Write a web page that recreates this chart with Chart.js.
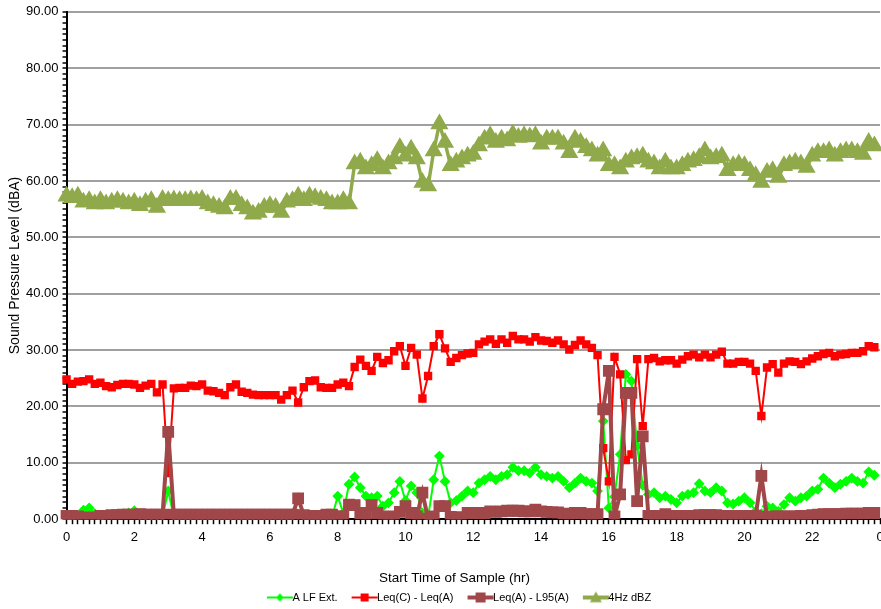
<!DOCTYPE html>
<html>
<head>
<meta charset="utf-8">
<script src="https://cdn.jsdelivr.net/npm/chart.js@4.4.0/dist/chart.umd.min.js"></script>
<style>
  html, body { margin: 0; padding: 0; background: #fff; overflow: hidden; }
  #wrap { width: 881px; height: 609px; overflow: hidden; }
  canvas { display: block; }
</style>
</head>
<body>
<div id="wrap"><canvas id="noiseChart" width="904" height="609"></canvas></div>
<script>
// series values, one sample every 10 minutes (144 samples over the day)
var aLfExt = [
  0.0, 0.3, 0.6, 1.6, 2.0, 1.0,   0.2, 0.8, 0.8, 0.9, 1.0, 1.1,
  1.5, 0.6, 0.5, 0.5, 0.5, 0.5,   5.0, 0.4, 0.4, 0.4, 0.4, 0.4,
  0.4, 0.4, 0.4, 0.4, 0.4, 0.4,   0.4, 0.4, 0.4, 0.4, 0.4, 0.4,
  0.4, 0.4, 0.4, 0.4, 0.4, 0.6,   0.4, 0.4, 0.4, 0.4, 0.4, 0.3,
  4.1, 1.1, 6.2, 7.5, 5.6, 4.1,   3.8, 4.1, 2.3, 2.9, 4.7, 6.7,
  3.3, 5.9, 4.7, 1.1, 0.3, 7.0,   11.2, 6.7, 2.9, 3.3, 4.1, 5.0,
  4.7, 6.4, 7.0, 7.6, 7.0, 7.6,   7.9, 9.2, 8.6, 8.6, 8.2, 9.2,
  7.9, 7.6, 7.3, 7.6, 6.7, 5.6,   6.4, 7.3, 6.7, 6.4, 5.0, 17.4,
  2.0, 4.0, 11.5, 25.7, 24.5, 13.0,   6.0, 4.4, 4.7, 3.8, 4.1, 3.5,
  2.9, 4.1, 4.4, 4.7, 6.3, 5.0,   4.7, 5.6, 5.0, 2.9, 2.7, 3.2,
  3.8, 2.9, 1.4, 1.0, 2.3, 2.0,   1.4, 2.6, 3.8, 3.2, 3.8, 4.1,
  5.0, 5.3, 7.3, 6.4, 5.6, 6.2,   6.7, 7.3, 6.7, 6.4, 8.4, 7.8
];
var leqCminusA = [
  24.8, 24.0, 24.4, 24.5, 24.8, 24.0,   24.2, 23.6, 23.4, 23.8, 24.0, 24.0,
  23.9, 23.3, 23.7, 24.0, 22.5, 23.9,   8.2, 23.2, 23.3, 23.3, 23.7, 23.6,
  23.9, 22.8, 22.7, 22.4, 22.0, 23.4,   23.9, 22.6, 22.4, 22.1, 22.0, 22.0,
  22.0, 22.0, 21.2, 22.0, 22.8, 20.7,   23.4, 24.5, 24.6, 23.4, 23.3, 23.3,
  23.9, 24.2, 23.6, 27.0, 28.3, 27.2,   26.3, 28.8, 27.7, 28.2, 29.8, 30.7,
  27.2, 30.4, 29.2, 21.4, 25.4, 30.7,   32.8, 30.3, 27.9, 28.6, 29.1, 29.4,
  29.5, 31.0, 31.5, 31.9, 31.1, 31.9,   31.3, 32.5, 31.9, 31.9, 31.5, 32.3,
  31.7, 31.6, 31.3, 31.7, 31.0, 30.1,   30.9, 31.7, 31.0, 30.4, 29.1, 12.6,
  6.7, 28.8, 25.7, 10.5, 11.5, 28.4,   16.5, 28.4, 28.6, 28.0, 28.2, 28.2,
  27.6, 28.3, 28.9, 29.2, 28.7, 29.2,   28.7, 29.2, 29.7, 27.6, 27.6, 27.9,
  27.9, 27.6, 26.3, 18.3, 26.9, 27.5,   26.0, 27.6, 28.0, 27.9, 27.5, 28.0,
  28.5, 28.9, 29.3, 29.5, 28.9, 29.2,   29.3, 29.5, 29.5, 29.8, 30.7, 30.5
];
var leqAminusL95 = [
  0.6, 0.6, 0.5, 0.3, 0.2, 0.3,   0.6, 0.6, 0.7, 0.7, 0.8, 0.8,
  0.8, 0.9, 0.8, 0.8, 0.8, 0.8,   15.5, 0.8, 0.8, 0.8, 0.8, 0.8,
  0.8, 0.8, 0.8, 0.8, 0.8, 0.8,   0.8, 0.8, 0.8, 0.8, 0.8, 0.8,
  0.8, 0.8, 0.8, 0.8, 0.8, 3.7,   0.7, 0.6, 0.6, 0.6, 0.8, 0.8,
  0.5, 0.5, 2.6, 2.5, 1.1, 0.6,   2.5, 1.1, 0.5, 0.4, 0.5, 1.3,
  2.3, 1.1, 0.5, 4.7, 0.1, 0.5,   2.3, 2.3, 0.4, 0.3, 0.3, 1.1,
  1.1, 1.0, 1.1, 1.4, 1.3, 1.4,   1.5, 1.5, 1.5, 1.4, 1.4, 1.7,
  1.4, 1.3, 1.2, 1.2, 1.0, 0.9,   1.1, 1.1, 0.9, 0.9, 0.9, 19.5,
  26.3, 0.5, 4.4, 22.4, 22.4, 3.2,   14.7, 0.6, 0.6, 0.6, 0.9, 0.6,
  0.6, 0.6, 0.6, 0.6, 0.7, 0.7,   0.7, 0.7, 0.6, 0.6, 0.6, 0.6,
  0.6, 0.6, 0.6, 7.7, 0.4, 0.5,   0.5, 0.5, 0.5, 0.5, 0.6, 0.6,
  0.7, 0.8, 0.9, 0.9, 0.9, 0.9,   1.0, 1.0, 1.0, 1.0, 1.1, 1.1
];
var hz4dBZ = [
  57.3, 57.0, 57.3, 56.2, 56.5, 55.9,   56.5, 55.9, 56.2, 56.5, 56.2, 55.9,
  56.2, 55.6, 56.2, 56.5, 55.3, 56.7,   56.5, 56.6, 56.5, 56.5, 56.6, 56.5,
  56.7, 55.9, 55.6, 55.3, 55.0, 56.7,   56.7, 55.6, 55.0, 54.1, 54.4, 55.3,
  55.6, 55.3, 54.4, 56.2, 56.5, 57.3,   56.5, 57.3, 57.0, 56.7, 56.5, 55.9,
  55.9, 56.5, 55.9, 63.0, 63.3, 62.1,   62.7, 63.6, 62.1, 63.0, 63.9, 65.9,
  64.4, 65.6, 63.9, 59.7, 59.1, 65.3,   70.1, 66.8, 62.7, 63.3, 63.9, 64.4,
  64.7, 66.2, 67.4, 68.0, 66.8, 67.4,   67.1, 68.3, 67.7, 68.0, 67.8, 68.0,
  66.5, 67.4, 67.4, 67.4, 66.5, 65.0,   67.4, 66.8, 65.9, 65.3, 64.4, 65.3,
  62.7, 62.7, 62.1, 63.3, 63.9, 64.1,   64.4, 63.3, 63.0, 62.1, 63.3, 62.1,
  62.1, 62.7, 63.3, 63.6, 64.1, 65.3,   63.9, 64.1, 64.4, 61.8, 62.7, 63.0,
  62.7, 61.8, 60.9, 59.7, 61.5, 61.8,   60.6, 62.7, 63.0, 63.3, 63.0, 62.4,
  64.4, 65.0, 65.0, 65.3, 64.4, 65.0,   65.3, 65.3, 65.0, 64.7, 66.8, 66.2
];

var seriesNames = ['A LF Ext.', 'Leq(C) - Leq(A)', 'Leq(A) - L95(A)', '4Hz dBZ'];
var seriesColors = ['#00ff00', '#ff0000', '#a0474a', '#8fa94b'];

// sample start times in hours (one every 10 min, plus the closing 24:00 slot)
var sampleHours = [];
for (var i = 0; i <= 144; i++) sampleHours.push(i / 6);

var font = 'Liberation Sans, Arial, sans-serif';

// line+marker icons for the legend, excel style. the icon is wider than the
// legend box so the short line runs right up to the label text.
function legendIcon(color, lineW, shape, r) {
    var c = document.createElement('canvas');
    c.width = 46; c.height = 14;
    var g = c.getContext('2d');
    var cx = 31, cy = 7;
    g.strokeStyle = color; g.fillStyle = color; g.lineWidth = lineW;
    g.beginPath(); g.moveTo(18, cy); g.lineTo(44, cy); g.stroke();
    g.beginPath();
    if (shape === 'diamond') {
        g.moveTo(cx, cy - r); g.lineTo(cx + r, cy); g.lineTo(cx, cy + r); g.lineTo(cx - r, cy);
    } else if (shape === 'triangle') {
        g.moveTo(cx, cy - r); g.lineTo(cx + r, cy + r * 0.8); g.lineTo(cx - r, cy + r * 0.8);
    } else {
        g.rect(cx - r, cy - r, 2 * r, 2 * r);
    }
    g.closePath(); g.fill();
    return c;
}
var legendIcons = [
    legendIcon(seriesColors[0], 2, 'diamond', 4),
    legendIcon(seriesColors[1], 2, 'square', 4),
    legendIcon(seriesColors[2], 4, 'square', 5),
    legendIcon(seriesColors[3], 4, 'triangle', 6)
];

var ctx = document.getElementById('noiseChart').getContext('2d');
var noiseChart = new Chart(ctx, {
    type: 'line',
    data: {
        labels: sampleHours,
        datasets: [{
            label: seriesNames[0],
            data: aLfExt,
            borderColor: seriesColors[0],
            backgroundColor: seriesColors[0],
            borderWidth: 2,
            pointStyle: 'rectRot',
            pointRadius: 4,
            order: 4
        }, {
            label: seriesNames[1],
            data: leqCminusA,
            borderColor: seriesColors[1],
            backgroundColor: seriesColors[1],
            borderWidth: 2,
            pointStyle: 'rect',
            pointRadius: 4.5,
            order: 3
        }, {
            label: seriesNames[2],
            data: leqAminusL95,
            borderColor: seriesColors[2],
            backgroundColor: seriesColors[2],
            borderWidth: 4,
            pointStyle: 'rect',
            pointRadius: 5.5,
            order: 2
        }, {
            label: seriesNames[3],
            data: hz4dBZ,
            borderColor: seriesColors[3],
            backgroundColor: seriesColors[3],
            borderWidth: 3.5,
            pointStyle: 'triangle',
            pointRadius: 7,
            order: 1
        }]
    },
    options: {
        responsive: false,
        animation: false,
        devicePixelRatio: 1,
        elements: {
            line: { tension: 0 },
            point: { borderWidth: 0, hoverRadius: 6 }
        },
        layout: { padding: { left: 6, right: 2, top: 4, bottom: -4 } },
        scales: {
            x: {
                type: 'category',
                offset: false,
                // extra room on the right: canvas is wider than the page, the last "0" gets clipped
                afterFit: function (scale) { scale.paddingRight = 24; },
                grid: {
                    drawOnChartArea: false,
                    tickLength: 5,
                    tickColor: '#000',
                    tickWidth: 1.5
                },
                border: { color: '#000', width: 2 },
                ticks: {
                    autoSkip: false,
                    maxRotation: 0,
                    minRotation: 0,
                    padding: 5,
                    color: '#000',
                    font: { family: font, size: 13 },
                    callback: function (val, idx) {
                        return idx % 12 === 0 ? String((idx / 6) % 24) : '';
                    }
                },
                title: {
                    display: true,
                    text: 'Start Time of Sample (hr)          ',
                    color: '#000',
                    font: { family: font, size: 13.5 },
                    padding: { top: 20, bottom: 2 }
                }
            },
            y: {
                min: 0,
                max: 90,
                grid: {
                    color: function (c) { return c.tick.value % 10 === 0 ? '#a0a0a0' : 'rgba(0,0,0,0)'; },
                    lineWidth: 2,
                    tickLength: 4,
                    tickColor: '#000',
                    tickWidth: 1.5
                },
                border: { color: '#000', width: 2 },
                ticks: {
                    stepSize: 1,
                    autoSkip: false,
                    padding: 4,
                    color: '#000',
                    font: { family: font, size: 13 },
                    callback: function (v) { return v % 10 === 0 ? v.toFixed(2) : ''; }
                },
                title: {
                    display: true,
                    text: 'Sound Pressure Level (dBA)',
                    color: '#000',
                    font: { family: font, size: 14, lineHeight: 1 },
                    padding: { top: 2, bottom: 0 }
                }
            }
        },
        plugins: {
            tooltip: { enabled: false },
            legend: {
                position: 'bottom',
                labels: {
                    usePointStyle: true,
                    pointStyleWidth: 30,
                    padding: 4,
                    color: '#000',
                    font: { family: font, size: 11 },
                    sort: function (a, b) { return a.datasetIndex - b.datasetIndex; },
                    generateLabels: function (chart) {
                        var items = Chart.defaults.plugins.legend.labels.generateLabels(chart);
                        items.forEach(function (it) { it.pointStyle = legendIcons[it.datasetIndex]; });
                        return items;
                    }
                }
            }
        }
    }
});
</script>
</body>
</html>
